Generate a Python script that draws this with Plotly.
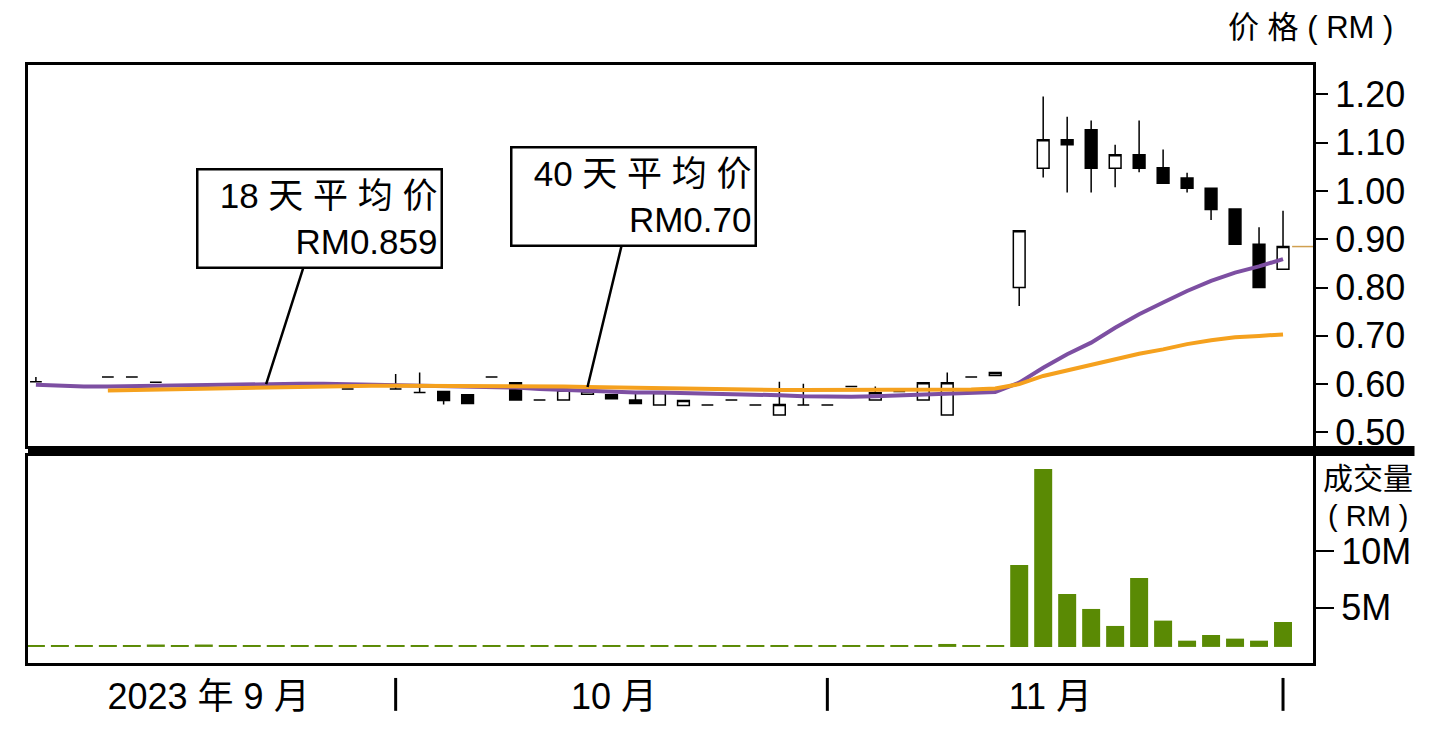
import plotly.graph_objects as go

# trading days (index) from Sep to end Nov 2023
days = list(range(53))

opens = [0.605, 0.597, 0.596, 0.615, 0.615, 0.604, 0.598, 0.599, 0.600, 0.600,
         0.601, 0.601, 0.600, 0.590, 0.598, 0.590, 0.583, 0.585, 0.578, 0.615,
         0.603, 0.567, 0.567, 0.579, 0.578, 0.567, 0.557, 0.556, 0.557, 0.567,
         0.557, 0.536, 0.557, 0.557, 0.595, 0.567, 0.585, 0.567, 0.536, 0.615,
         0.618, 0.800, 1.047, 1.106, 1.127, 1.047, 1.075, 1.048, 1.027, 1.006,
         0.963, 0.890, 0.838]
highs = [0.615, 0.597, 0.596, 0.615, 0.615, 0.604, 0.598, 0.599, 0.600, 0.600,
         0.601, 0.601, 0.600, 0.590, 0.598, 0.621, 0.624, 0.585, 0.578, 0.615,
         0.603, 0.567, 0.588, 0.586, 0.578, 0.581, 0.583, 0.566, 0.557, 0.567,
         0.557, 0.605, 0.601, 0.557, 0.595, 0.595, 0.585, 0.603, 0.624, 0.615,
         0.624, 0.918, 1.196, 1.154, 1.146, 1.096, 1.146, 1.086, 1.038, 1.006,
         0.963, 0.925, 0.959]
lows = [0.605, 0.597, 0.596, 0.615, 0.615, 0.604, 0.598, 0.599, 0.600, 0.600,
        0.601, 0.601, 0.600, 0.590, 0.598, 0.590, 0.583, 0.558, 0.560, 0.615,
        0.567, 0.567, 0.567, 0.579, 0.570, 0.560, 0.557, 0.556, 0.557, 0.567,
        0.557, 0.536, 0.557, 0.557, 0.595, 0.567, 0.585, 0.567, 0.536, 0.615,
        0.618, 0.762, 1.028, 0.997, 0.997, 1.008, 1.039, 1.016, 0.997, 0.940,
        0.890, 0.800, 0.838]
closes = [0.605, 0.597, 0.596, 0.615, 0.615, 0.604, 0.598, 0.599, 0.600, 0.600,
          0.601, 0.601, 0.600, 0.590, 0.598, 0.590, 0.583, 0.566, 0.560, 0.615,
          0.567, 0.567, 0.588, 0.586, 0.570, 0.560, 0.583, 0.566, 0.557, 0.567,
          0.557, 0.558, 0.557, 0.557, 0.595, 0.582, 0.585, 0.603, 0.603, 0.615,
          0.624, 0.918, 1.106, 1.096, 1.047, 1.075, 1.047, 1.016, 1.006, 0.962,
          0.890, 0.800, 0.885]

# moving averages
ma18 = [0.599, 0.596, 0.595, 0.595, 0.596, 0.597, 0.598, 0.599, 0.600, 0.600,
        0.601, 0.601, 0.601, 0.600, 0.600, 0.599, 0.598, 0.597, 0.596, 0.595,
        0.593, 0.590, 0.588, 0.586, 0.584, 0.583, 0.583, 0.582, 0.582, 0.581,
        0.579, 0.577, 0.575, 0.574, 0.574, 0.575, 0.577, 0.579, 0.580, 0.582,
        0.584, 0.603, 0.634, 0.662, 0.686, 0.717, 0.745, 0.769, 0.793, 0.814,
        0.831, 0.844, 0.859]
ma40 = [None, None, None, 0.587, 0.588, 0.589, 0.590, 0.591, 0.592, 0.593,
        0.594, 0.595, 0.596, 0.597, 0.597, 0.597, 0.597, 0.597, 0.597, 0.596,
        0.596, 0.595, 0.595, 0.594, 0.593, 0.592, 0.591, 0.590, 0.590, 0.589,
        0.589, 0.588, 0.588, 0.588, 0.588, 0.588, 0.588, 0.588, 0.589, 0.589,
        0.591, 0.600, 0.617, 0.629, 0.641, 0.653, 0.663, 0.672, 0.683, 0.691,
        0.697, 0.700, 0.703]

# volume in RM (top of each bar as read on the axis)
volume = [1.67e6, 1.67e6, 1.67e6, 1.67e6, 1.67e6, 1.75e6, 1.67e6, 1.75e6, 1.67e6, 1.67e6,
          1.67e6, 1.67e6, 1.67e6, 1.67e6, 1.67e6, 1.67e6, 1.67e6, 1.67e6, 1.67e6, 1.67e6,
          1.67e6, 1.67e6, 1.67e6, 1.67e6, 1.67e6, 1.67e6, 1.67e6, 1.67e6, 1.67e6, 1.67e6,
          1.67e6, 1.67e6, 1.67e6, 1.67e6, 1.67e6, 1.67e6, 1.67e6, 1.67e6, 1.80e6, 1.67e6,
          1.71e6, 8.77e6, 17.25e6, 6.21e6, 4.89e6, 3.39e6, 7.63e6, 3.86e6, 2.09e6, 2.59e6,
          2.27e6, 2.09e6, 3.74e6]
vol_base = 1.54e6

month_pos = [7.2, 24.1, 42.3]
month_text = ["2023 年 9 月", "10 月", "11 月"]
month_bounds = [15, 33, 52]

price_ticks = [0.5, 0.6, 0.7, 0.8, 0.9, 1.0, 1.1, 1.2]
vol_ticks = [5e6, 10e6]
vol_ticktext = ["5M", "10M"]

FONT = "Liberation Sans, Noto Sans CJK SC, sans-serif"
PURPLE = "#7d4fa2"
ORANGE = "#f5a11e"
GREEN = "#5a8a04"

fig = go.Figure()

fig.add_trace(go.Candlestick(
    x=days, open=opens, high=highs, low=lows, close=closes,
    increasing=dict(line=dict(color="black", width=1.5), fillcolor="white"),
    decreasing=dict(line=dict(color="black", width=1.5), fillcolor="black"),
    whiskerwidth=0, xaxis="x", yaxis="y", hoverinfo="skip"))

fig.add_trace(go.Scatter(x=days, y=ma18, mode="lines",
                         line=dict(color=PURPLE, width=4), xaxis="x", yaxis="y"))
fig.add_trace(go.Scatter(x=days, y=ma40, mode="lines",
                         line=dict(color=ORANGE, width=4), xaxis="x", yaxis="y"))

fig.add_trace(go.Bar(x=days, y=[v - vol_base for v in volume], base=vol_base,
                     width=0.75, marker=dict(color=GREEN, line_width=0),
                     xaxis="x2", yaxis="y2"))

x_range = [-0.33, 53.25]

# the page body has an 8px margin, so the margins are trimmed to suit
fig.update_layout(
    width=1455, height=741,
    margin=dict(l=20, r=150, t=57, b=86),
    paper_bgcolor="white", plot_bgcolor="white",
    showlegend=False,
    boxgap=0.3,
    font=dict(family=FONT, color="black", size=35),
    xaxis=dict(domain=[0, 1], anchor="y", range=x_range, showticklabels=False,
               showgrid=False, zeroline=False, showline=True, mirror=True,
               linecolor="black", linewidth=3, ticks="",
               rangeslider=dict(visible=False)),
    yaxis=dict(domain=[0.3629, 1], anchor="x", side="right", range=[0.472, 1.261],
               tickvals=price_ticks, ticktext=["%.2f" % v for v in price_ticks],
               ticks="outside", ticklen=12, tickwidth=2, tickcolor="black",
               showgrid=False, zeroline=False, showline=True, mirror=True,
               linecolor="black", linewidth=3, tickfont=dict(size=36)),
    xaxis2=dict(domain=[0, 1], anchor="y2", matches="x", range=x_range,
                tickvals=month_pos, ticktext=month_text, ticks="",
                showgrid=False, zeroline=False, showline=True, mirror=True,
                linecolor="black", linewidth=3, tickfont=dict(size=36)),
    yaxis2=dict(domain=[0, 0.3462], anchor="x2", side="right", range=[0.12e6, 18.39e6],
                tickvals=vol_ticks, ticktext=vol_ticktext,
                ticks="outside", ticklen=18, tickwidth=2, tickcolor="black",
                showgrid=False, zeroline=False, showline=True, mirror=True,
                linecolor="black", linewidth=3, tickfont=dict(size=36)),
)

# thick separator between price and volume panels
fig.add_shape(type="rect", xref="paper", yref="paper", x0=0, x1=1.079,
              y0=0.3462, y1=0.3629, fillcolor="black", line_width=0)

# month separators
for b in month_bounds:
    fig.add_shape(type="line", xref="x2", yref="paper", x0=b, x1=b,
                  y0=-0.025, y1=-0.08, line=dict(color="black", width=3))

# last price marker
fig.add_shape(type="line", xref="x", yref="y", x0=days[-1] + 0.38, x1=x_range[1],
              y0=closes[-1], y1=closes[-1], line=dict(color="#d0a050", width=1.5))

fig.add_annotation(x=9.6, y=0.600, xref="x", yref="y", ax=53, ay=-166,
                   text="18 天 平 均 价<br>RM0.859", align="right",
                   width=236, height=90, borderpad=3, bgcolor="white",
                   bordercolor="black", borderwidth=2.5,
                   showarrow=True, arrowhead=0, arrowwidth=2.5, arrowcolor="black",
                   standoff=0, font=dict(size=35))
fig.add_annotation(x=days[23], y=ma40[23], xref="x", yref="y", ax=46, ay=-191,
                   text="40 天 平 均 价<br>RM0.70", align="right",
                   width=236, height=90, borderpad=3, bgcolor="white",
                   bordercolor="black", borderwidth=2.5,
                   showarrow=True, arrowhead=0, arrowwidth=2.5, arrowcolor="black",
                   standoff=0, font=dict(size=35))

fig.add_annotation(text="价 格 ( RM )", xref="paper", yref="paper",
                   x=0.998, y=1.062, xanchor="center", yanchor="middle",
                   showarrow=False, font=dict(size=31))
fig.add_annotation(text="成交量", xref="paper", yref="paper",
                   x=1.043, y=0.309, xanchor="center", yanchor="middle",
                   showarrow=False, font=dict(size=30))
fig.add_annotation(text="( RM )", xref="paper", yref="paper",
                   x=1.043, y=0.245, xanchor="center", yanchor="middle",
                   showarrow=False, font=dict(size=29))

fig.write_html("out.html")
